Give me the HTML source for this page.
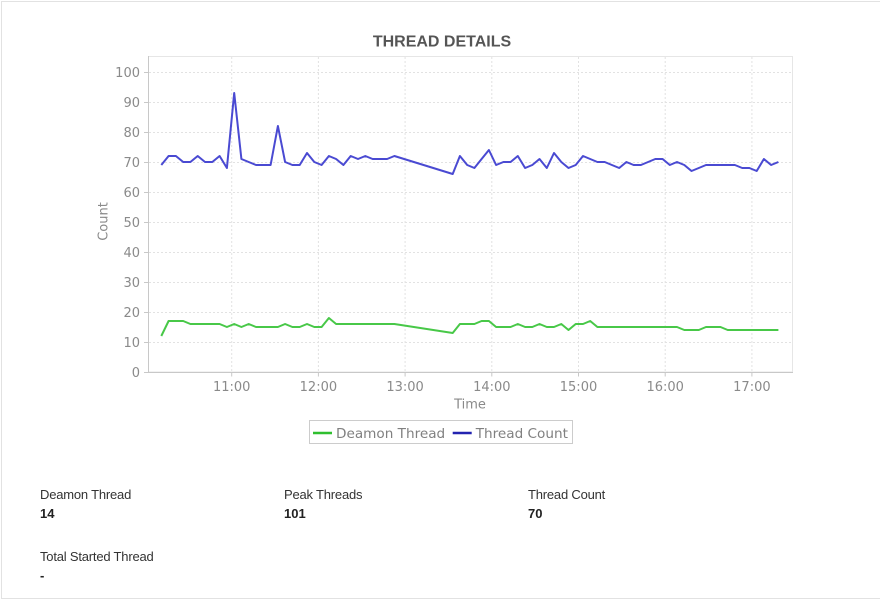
<!DOCTYPE html>
<html>
<head>
<meta charset="utf-8">
<style>
html,body{margin:0;padding:0;background:#fff;}
body{width:880px;height:600px;overflow:hidden;}
svg{display:block;}
.tick{font-family:"DejaVu Sans","Liberation Sans",sans-serif;font-size:13px;fill:#8a8a8a;}
.lbl{font-family:"Liberation Sans",sans-serif;font-size:13px;fill:#333;letter-spacing:-0.2px;}
.val{font-family:"Liberation Sans",sans-serif;font-size:13px;font-weight:bold;fill:#222;}
</style>
</head>
<body>
<svg width="880" height="600" viewBox="0 0 880 600" xmlns="http://www.w3.org/2000/svg">
  <rect x="0" y="0" width="880" height="600" fill="#fff"/>
  <rect x="1.5" y="1.5" width="890" height="597" fill="none" stroke="#e2e2e2" stroke-width="1"/>

  <!-- title -->
  <text x="442" y="46.5" text-anchor="middle" font-family="'Liberation Sans',sans-serif" font-size="16" font-weight="bold" fill="#555">THREAD DETAILS</text>

  <!-- plot outline -->
  <rect x="148.5" y="56.5" width="644" height="315.5" fill="#fff" stroke="#e6e6e6" stroke-width="1"/>

  <!-- gridlines -->
  <g stroke="#e2e2e2" stroke-width="1" stroke-dasharray="2,2">
    <line x1="149" y1="72.5" x2="792" y2="72.5"/>
    <line x1="149" y1="102.5" x2="792" y2="102.5"/>
    <line x1="149" y1="132.5" x2="792" y2="132.5"/>
    <line x1="149" y1="162.5" x2="792" y2="162.5"/>
    <line x1="149" y1="192.5" x2="792" y2="192.5"/>
    <line x1="149" y1="222.5" x2="792" y2="222.5"/>
    <line x1="149" y1="252.5" x2="792" y2="252.5"/>
    <line x1="149" y1="282.5" x2="792" y2="282.5"/>
    <line x1="149" y1="312.5" x2="792" y2="312.5"/>
    <line x1="149" y1="342.5" x2="792" y2="342.5"/>
    <line x1="231.7" y1="57" x2="231.7" y2="372"/>
    <line x1="318.4" y1="57" x2="318.4" y2="372"/>
    <line x1="405.1" y1="57" x2="405.1" y2="372"/>
    <line x1="491.8" y1="57" x2="491.8" y2="372"/>
    <line x1="578.5" y1="57" x2="578.5" y2="372"/>
    <line x1="665.2" y1="57" x2="665.2" y2="372"/>
    <line x1="751.9" y1="57" x2="751.9" y2="372"/>
  </g>

  <!-- axes -->
  <g stroke="#c8c8c8" stroke-width="1">
    <line x1="148.5" y1="56" x2="148.5" y2="372.5"/>
    <line x1="148" y1="372.5" x2="793" y2="372.5"/>
    <!-- y ticks -->
    <line x1="144" y1="72.5" x2="148.5" y2="72.5"/>
    <line x1="144" y1="102.5" x2="148.5" y2="102.5"/>
    <line x1="144" y1="132.5" x2="148.5" y2="132.5"/>
    <line x1="144" y1="162.5" x2="148.5" y2="162.5"/>
    <line x1="144" y1="192.5" x2="148.5" y2="192.5"/>
    <line x1="144" y1="222.5" x2="148.5" y2="222.5"/>
    <line x1="144" y1="252.5" x2="148.5" y2="252.5"/>
    <line x1="144" y1="282.5" x2="148.5" y2="282.5"/>
    <line x1="144" y1="312.5" x2="148.5" y2="312.5"/>
    <line x1="144" y1="342.5" x2="148.5" y2="342.5"/>
    <line x1="144" y1="372.5" x2="148.5" y2="372.5"/>
    <!-- x ticks -->
    <line x1="231.7" y1="372.5" x2="231.7" y2="376.5"/>
    <line x1="318.4" y1="372.5" x2="318.4" y2="376.5"/>
    <line x1="405.1" y1="372.5" x2="405.1" y2="376.5"/>
    <line x1="491.8" y1="372.5" x2="491.8" y2="376.5"/>
    <line x1="578.5" y1="372.5" x2="578.5" y2="376.5"/>
    <line x1="665.2" y1="372.5" x2="665.2" y2="376.5"/>
    <line x1="751.9" y1="372.5" x2="751.9" y2="376.5"/>
  </g>

  <!-- y tick labels -->
  <g class="tick" text-anchor="end">
    <text x="140" y="77">100</text>
    <text x="140" y="107">90</text>
    <text x="140" y="137">80</text>
    <text x="140" y="167">70</text>
    <text x="140" y="197">60</text>
    <text x="140" y="227">50</text>
    <text x="140" y="257">40</text>
    <text x="140" y="287">30</text>
    <text x="140" y="317">20</text>
    <text x="140" y="347">10</text>
    <text x="140" y="377">0</text>
  </g>

  <!-- x tick labels -->
  <g class="tick" text-anchor="middle">
    <text x="231.7" y="391">11:00</text>
    <text x="318.4" y="391">12:00</text>
    <text x="405.1" y="391">13:00</text>
    <text x="491.8" y="391">14:00</text>
    <text x="578.5" y="391">15:00</text>
    <text x="665.2" y="391">16:00</text>
    <text x="751.9" y="391">17:00</text>
  </g>

  <!-- axis titles -->
  <text class="tick" x="470" y="408.5" text-anchor="middle">Time</text>
  <text class="tick" x="0" y="0" text-anchor="middle" transform="translate(107.5,221.5) rotate(-90)">Count</text>

  <!-- series -->
  <polyline fill="none" stroke="#4a4ad2" stroke-width="2" stroke-linejoin="round" points="161.3,165 168.6,156 175.9,156 183.2,162 190.4,162 197.7,156 205.0,162 212.3,162 219.6,156 226.9,168 234.2,93 241.4,159 248.7,162 256.0,165 263.3,165 270.6,165 277.9,126 285.1,162 292.4,165 299.7,165 307.0,153 314.3,162 321.6,165 328.9,156 336.1,159 343.4,165 350.7,156 358.0,159 365.3,156 372.6,159 379.8,159 387.1,159 394.4,156 452.7,174 459.9,156 467.2,165 474.4,168 481.6,159 488.9,150 496.1,165 503.4,162 510.6,162 517.8,156 525.1,168 532.3,165 539.5,159 546.8,168 554.0,153 561.3,162 568.5,168 575.7,165 583.0,156 590.2,159 597.4,162 604.7,162 611.9,165 619.2,168 626.4,162 633.6,165 640.9,165 648.1,162 655.3,159 662.6,159 669.8,165 677.0,162 684.3,165 691.5,171 698.8,168 706.0,165 713.2,165 720.5,165 727.7,165 734.9,165 742.2,168 749.4,168 756.7,171 763.9,159 771.1,165 778.4,162"/>
  <polyline fill="none" stroke="#48c848" stroke-width="2" stroke-linejoin="round" points="161.3,336 168.6,321 175.9,321 183.2,321 190.4,324 197.7,324 205.0,324 212.3,324 219.6,324 226.9,327 234.2,324 241.4,327 248.7,324 256.0,327 263.3,327 270.6,327 277.9,327 285.1,324 292.4,327 299.7,327 307.0,324 314.3,327 321.6,327 328.9,318 336.1,324 343.4,324 350.7,324 358.0,324 365.3,324 372.6,324 379.8,324 387.1,324 394.4,324 452.7,333 459.9,324 467.2,324 474.4,324 481.6,321 488.9,321 496.1,327 503.4,327 510.6,327 517.8,324 525.1,327 532.3,327 539.5,324 546.8,327 554.0,327 561.3,324 568.5,330 575.7,324 583.0,324 590.2,321 597.4,327 604.7,327 611.9,327 619.2,327 626.4,327 633.6,327 640.9,327 648.1,327 655.3,327 662.6,327 669.8,327 677.0,327 684.3,330 691.5,330 698.8,330 706.0,327 713.2,327 720.5,327 727.7,330 734.9,330 742.2,330 749.4,330 756.7,330 763.9,330 771.1,330 778.4,330"/>

  <!-- legend -->
  <rect x="309.5" y="420.5" width="263" height="23" fill="#fff" stroke="#cccccc" stroke-width="1"/>
  <line x1="313" y1="433" x2="332" y2="433" stroke="#2fbf2f" stroke-width="2.5"/>
  <text x="336" y="437.8" font-family="'DejaVu Sans',sans-serif" font-size="13.6" fill="#808080">Deamon Thread</text>
  <line x1="452.7" y1="433" x2="471.7" y2="433" stroke="#2323b0" stroke-width="2.5"/>
  <text x="475.7" y="437.8" font-family="'DejaVu Sans',sans-serif" font-size="13.6" fill="#808080">Thread Count</text>

  <!-- details -->
  <text class="lbl" x="40" y="499">Deamon Thread</text>
  <text class="val" x="40" y="518">14</text>
  <text class="lbl" x="284" y="499">Peak Threads</text>
  <text class="val" x="284" y="518">101</text>
  <text class="lbl" x="528" y="499">Thread Count</text>
  <text class="val" x="528" y="518">70</text>
  <text class="lbl" x="40" y="561">Total Started Thread</text>
  <text class="val" x="40" y="580">-</text>
</svg>
</body>
</html>
